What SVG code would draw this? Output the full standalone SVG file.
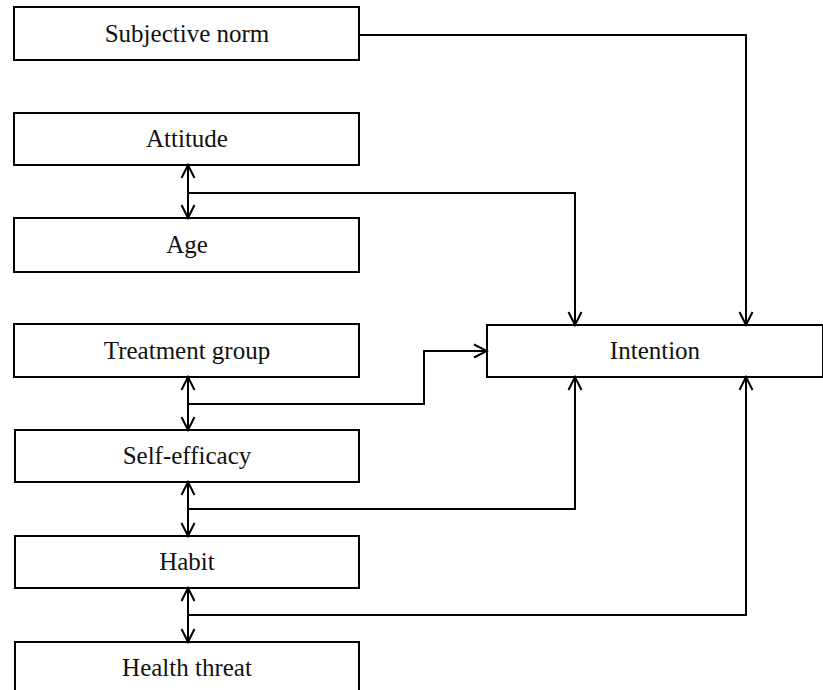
<svg xmlns="http://www.w3.org/2000/svg" width="823" height="690" viewBox="0 0 823 690">
<style>
.box{fill:#fff;stroke:#000;stroke-width:2}
.lbl{font-family:"Liberation Serif",serif;font-size:25px;text-anchor:middle;fill:#111}
.ln{fill:none;stroke:#000;stroke-width:2}
</style>
<defs>
<marker id="ah" viewBox="0 0 16 16" refX="14" refY="8" markerWidth="16" markerHeight="16" markerUnits="userSpaceOnUse" orient="auto-start-reverse">
<path d="M1,1.5 L14,8 L1,14.5" fill="none" stroke="#000" stroke-width="2"/>
</marker>
</defs>
<rect width="823" height="690" fill="#fff"/>
<g id="subjective-norm"><rect class="box" x="14" y="7" width="345" height="53"/><text class="lbl" x="187" y="42">Subjective norm</text></g>
<g id="attitude"><rect class="box" x="14" y="113" width="345" height="52"/><text class="lbl" x="187" y="147">Attitude</text></g>
<g id="age"><rect class="box" x="14" y="218" width="345" height="54"/><text class="lbl" x="187" y="253">Age</text></g>
<g id="treatment-group"><rect class="box" x="14" y="324" width="345" height="53"/><text class="lbl" x="187" y="359">Treatment group</text></g>
<g id="self-efficacy"><rect class="box" x="15" y="430" width="344" height="52"/><text class="lbl" x="187" y="464">Self-efficacy</text></g>
<g id="habit"><rect class="box" x="15" y="536" width="344" height="52"/><text class="lbl" x="187" y="570">Habit</text></g>
<g id="health-threat"><rect class="box" x="15" y="642" width="344" height="60"/><text class="lbl" x="187" y="676">Health threat</text></g>
<g id="intention"><rect class="box" x="487" y="325" width="336" height="52"/><text class="lbl" x="655" y="359">Intention</text></g>
<g id="connectors">
<path class="ln" d="M359,35 H746 V325" marker-end="url(#ah)"/>
<path class="ln" d="M188,165 V218" marker-start="url(#ah)" marker-end="url(#ah)"/>
<path class="ln" d="M188,193 H575 V325" marker-end="url(#ah)"/>
<path class="ln" d="M188,377 V430" marker-start="url(#ah)" marker-end="url(#ah)"/>
<path class="ln" d="M188,404 H424 V351 H487" marker-end="url(#ah)"/>
<path class="ln" d="M188,482 V536" marker-start="url(#ah)" marker-end="url(#ah)"/>
<path class="ln" d="M188,509 H575 V377" marker-end="url(#ah)"/>
<path class="ln" d="M188,588 V642" marker-start="url(#ah)" marker-end="url(#ah)"/>
<path class="ln" d="M188,615 H746 V377" marker-end="url(#ah)"/>
</g>
</svg>
